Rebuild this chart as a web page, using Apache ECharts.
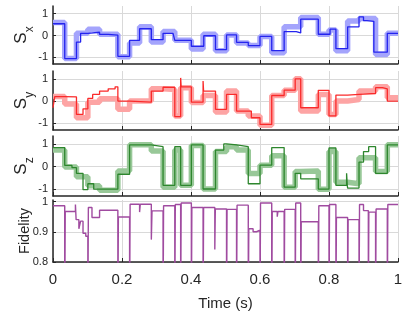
<!DOCTYPE html>
<html><head><meta charset="utf-8">
<script src="https://cdn.jsdelivr.net/npm/echarts@6/dist/echarts.min.js"></script>
<style>html,body{margin:0;padding:0;background:#fff}#c{width:415px;height:312px}</style>
</head><body><div id="c"></div>
<script>
// segment start times shared by the target (light) step curves
const segT = [0, 0.034, 0.068, 0.101, 0.135, 0.188, 0.222, 0.251, 0.285, 0.319, 0.353, 0.37, 0.401, 0.435, 0.471, 0.503, 0.532, 0.566, 0.6, 0.634, 0.67, 0.702, 0.718, 0.769, 0.80, 0.82, 0.854, 0.887, 0.935, 0.969];
const sxTarget = [0.6, -1.05, 0.1, 0.29, 0.06, -0.97, -0.34, 0.4, -0.3, 0.18, -0.22, -0.22, -0.61, 0.06, -0.69, 0.03, -0.34, -0.45, -0.04, -0.79, 0.4, 0.4, 0.82, 0.06, 0.25, -0.69, 0.67, 0.78, -0.87, 0.1];
const syTarget = [0.2, -0.13, -0.75, -0.05, 0.1, -0.37, 0, 0, 0.55, 0.52, -0.67, 0.6, -0.07, 0.25, -0.49, 0.45, -0.45, -0.67, -1.09, 0.25, 0.49, 1.0, -0.45, 0.3, -0.6, 0, 0.07, 0.45, 0.64, 0.15];
const szTarget = [0.73, -0.02, -0.45, -0.85, -1.05, -0.2, 0.96, 0.96, 0.69, -0.91, 0.73, -0.83, 0.93, -0.99, 0.66, 0.88, 0.73, -0.31, 0.06, 0.48, -0.91, -0.22, -0.2, -1.0, 0.67, -0.69, -0.76, 0.39, -0.22, 0.96];

// measured curves: [time, value] breakpoints (value holds until next time)
const sxMeasured = [[0,0.54],[0.034,-1.05],[0.068,-0.3],[0.08,0.1],[0.101,0.15],[0.135,0.05],[0.16,0.02],[0.188,-0.95],[0.222,-0.22],[0.251,0.31],[0.285,-0.19],[0.319,0.1],[0.348,0.16],[0.353,-0.22],[0.401,-0.49],[0.437,-0.01],[0.471,-0.64],[0.503,0.03],[0.532,-0.31],[0.566,-0.46],[0.6,-0.04],[0.634,-0.69],[0.67,0.18],[0.705,0.12],[0.718,0.75],[0.769,0.06],[0.803,0.29],[0.82,-0.6],[0.854,0.4],[0.887,0.85],[0.9,0.68],[0.91,0.65],[0.93,-0.76],[0.969,0.1],[1,0.1]];
const syMeasured = [[0,-0.3],[0.005,0.2],[0.034,0.19],[0.068,-0.6],[0.087,-0.35],[0.101,0.12],[0.115,0.3],[0.135,0.45],[0.16,0.55],[0.18,0.64],[0.188,0],[0.222,-0.05],[0.285,0.45],[0.319,0.62],[0.353,-0.7],[0.37,1.04],[0.3715,0.64],[0.401,-0.05],[0.435,0.9],[0.4365,0.45],[0.471,-0.37],[0.503,0.3],[0.532,-0.45],[0.575,-0.75],[0.6,-1.05],[0.634,0.25],[0.67,0.49],[0.702,1.0],[0.718,-0.3],[0.769,0.48],[0.80,-0.67],[0.82,0.27],[0.854,0.3],[0.887,0.34],[0.935,0.6],[0.955,0.55],[0.969,0],[1,0]];
const szMeasured = [[0,0.84],[0.034,0.05],[0.055,-0.05],[0.068,-0.3],[0.087,-1.02],[0.101,-0.76],[0.118,-1.0],[0.188,-0.34],[0.222,0.96],[0.285,0.88],[0.319,-0.83],[0.353,0.88],[0.37,-0.83],[0.401,0.96],[0.435,-0.99],[0.471,0.73],[0.495,1.0],[0.503,0.96],[0.532,0.88],[0.566,-0.76],[0.6,0.06],[0.634,0.84],[0.67,-0.91],[0.702,-0.3],[0.718,-0.54],[0.769,-1.0],[0.80,0.82],[0.82,-0.83],[0.851,-0.3],[0.853,-0.83],[0.854,-0.95],[0.887,0.2],[0.9,0.66],[0.915,0.88],[0.935,-0.3],[0.969,0.96],[1,0.96]];
const fidelity = [[0,0.986],[0.034,0.6],[0.0355,0.967],[0.065,0.99],[0.067,0.94],[0.075,0.91],[0.08,0.935],[0.087,0.895],[0.095,0.885],[0.101,0.6],[0.1025,0.98],[0.113,0.947],[0.135,0.971],[0.188,0.6],[0.1895,0.949],[0.222,0.6],[0.2235,0.991],[0.251,0.965],[0.253,0.991],[0.285,0.874],[0.287,0.969],[0.319,0.6],[0.3205,0.986],[0.353,0.6],[0.3545,0.99],[0.37,0.6],[0.3715,0.995],[0.401,0.6],[0.4025,0.98],[0.435,0.6],[0.4365,0.98],[0.469,0.841],[0.4705,0.975],[0.503,0.6],[0.5045,0.974],[0.532,0.6],[0.5335,0.988],[0.566,0.6],[0.5675,0.91],[0.58,0.9],[0.59,0.905],[0.6,0.6],[0.6015,0.995],[0.634,0.6],[0.6355,0.967],[0.65,0.95],[0.652,0.967],[0.67,0.6],[0.6715,0.974],[0.702,0.6],[0.7035,0.995],[0.718,0.6],[0.7195,0.933],[0.769,0.6],[0.7705,0.986],[0.80,0.6],[0.8015,0.99],[0.82,0.6],[0.8215,0.947],[0.854,0.6],[0.8555,0.94],[0.887,0.6],[0.8885,0.99],[0.9,0.97],[0.914,0.6],[0.9155,0.965],[0.935,0.6],[0.9365,0.975],[0.969,0.6],[0.9705,0.99],[1,0.99]];

const xTicks = [0, 0.2, 0.4, 0.6, 0.8, 1];
const sTicks = [-1, 0, 1];
const fTicks = [0.8, 0.9, 1];
const fTickLabels = ['0.8', '0.9', '1'];

const FONT = 'Liberation Sans, Arial, sans-serif';
function stepData(vals) {
  const d = segT.map((t, i) => [t, vals[i]]);
  d.push([1, vals[vals.length - 1]]);
  return d;
}
const grids = [
  {left: 53, width: 345, top: 6, height: 58},
  {left: 53, width: 345, top: 71, height: 59},
  {left: 53, width: 345, top: 136, height: 60},
  {left: 53, width: 345, top: 200, height: 62}
];
const gridLine = {show: true, lineStyle: {color: '#d9d9d9', width: 1}};
const xAxes = grids.map((g, i) => ({
  type: 'value', gridIndex: i, min: 0, max: 1, interval: 0.2,
  axisLine: {show: true, onZero: false, lineStyle: {color: '#262626', width: 1.5}},
  axisTick: {show: true, inside: true, length: 4, lineStyle: {color: '#262626', width: 1}},
  axisLabel: {show: i === 3, margin: 10, fontSize: 15, color: '#262626', fontFamily: FONT,
    formatter: v => String(Math.round(v * 10) / 10)},
  splitLine: gridLine,
  name: i === 3 ? 'Time (s)' : '', nameLocation: 'middle', nameGap: 34, nameMoveOverlap: false,
  nameTextStyle: {fontSize: 15, color: '#262626', fontFamily: FONT}
}));
function sName(sub) {
  return {
    name: '{s|S}{b|' + sub + '}', nameLocation: 'middle', nameGap: 17, nameMoveOverlap: false,
    nameTextStyle: {rich: {
      s: {fontSize: 17, lineHeight: 30, verticalAlign: 'middle', color: '#262626', fontFamily: FONT},
      b: {fontSize: 12, lineHeight: 30, verticalAlign: 'bottom', color: '#262626', fontFamily: FONT}
    }}
  };
}
const yCommon = {
  type: 'value',
  axisLine: {show: true, lineStyle: {color: '#262626', width: 1.5}},
  splitLine: gridLine
};
const yAxes = [
  Object.assign({}, yCommon, sName('x'), {gridIndex: 0, min: -1.3, max: 1.35,
    axisTick: {show: true, inside: true, length: 3, customValues: sTicks, lineStyle: {color: '#262626'}},
    axisLabel: {customValues: sTicks, margin: 5, fontSize: 11, color: '#262626', fontFamily: FONT}}),
  Object.assign({}, yCommon, sName('y'), {gridIndex: 1, min: -1.3, max: 1.35,
    axisTick: {show: true, inside: true, length: 3, customValues: sTicks, lineStyle: {color: '#262626'}},
    axisLabel: {customValues: sTicks, margin: 5, fontSize: 11, color: '#262626', fontFamily: FONT}}),
  Object.assign({}, yCommon, sName('z'), {gridIndex: 2, min: -1.3, max: 1.35,
    axisTick: {show: true, inside: true, length: 3, customValues: sTicks, lineStyle: {color: '#262626'}},
    axisLabel: {customValues: sTicks, margin: 5, fontSize: 11, color: '#262626', fontFamily: FONT}}),
  Object.assign({}, yCommon, {gridIndex: 3, min: 0.8, max: 1.005,
    name: 'Fidelity', nameLocation: 'middle', nameGap: 21, nameMoveOverlap: false,
    nameTextStyle: {fontSize: 14.5, color: '#262626', fontFamily: FONT},
    axisTick: {show: true, inside: true, length: 3, customValues: fTicks, lineStyle: {color: '#262626'}},
    axisLabel: {customValues: fTicks, margin: 5, fontSize: 11, color: '#262626', fontFamily: FONT,
      formatter: v => fTickLabels[fTicks.findIndex(t => Math.abs(t - v) < 1e-6)] || ''}})
];
function line(idx, data, color, width, z) {
  return {type: 'line', xAxisIndex: idx, yAxisIndex: idx, data: data, step: 'end',
    showSymbol: false, symbol: 'none', silent: true, animation: false, z: z,
    lineStyle: {color: color, width: width}};
}
const series = [
  line(0, stepData(sxTarget), '#a4a4fc', 5.5, 2),
  line(0, sxMeasured, '#2424ee', 1.3, 3),
  line(1, stepData(syTarget), '#fda4a4', 5.5, 2),
  line(1, syMeasured, '#fa2a2a', 1.3, 3),
  line(2, stepData(szTarget), '#98c898', 5.5, 2),
  line(2, szMeasured, '#2d862d', 1.3, 3),
  line(3, fidelity, '#a04ba0', 1.4, 3)
];
const chart = echarts.init(document.getElementById('c'), null, {renderer: 'canvas'});
chart.setOption({animation: false, grid: grids, xAxis: xAxes, yAxis: yAxes, series: series});
</script></body></html>
